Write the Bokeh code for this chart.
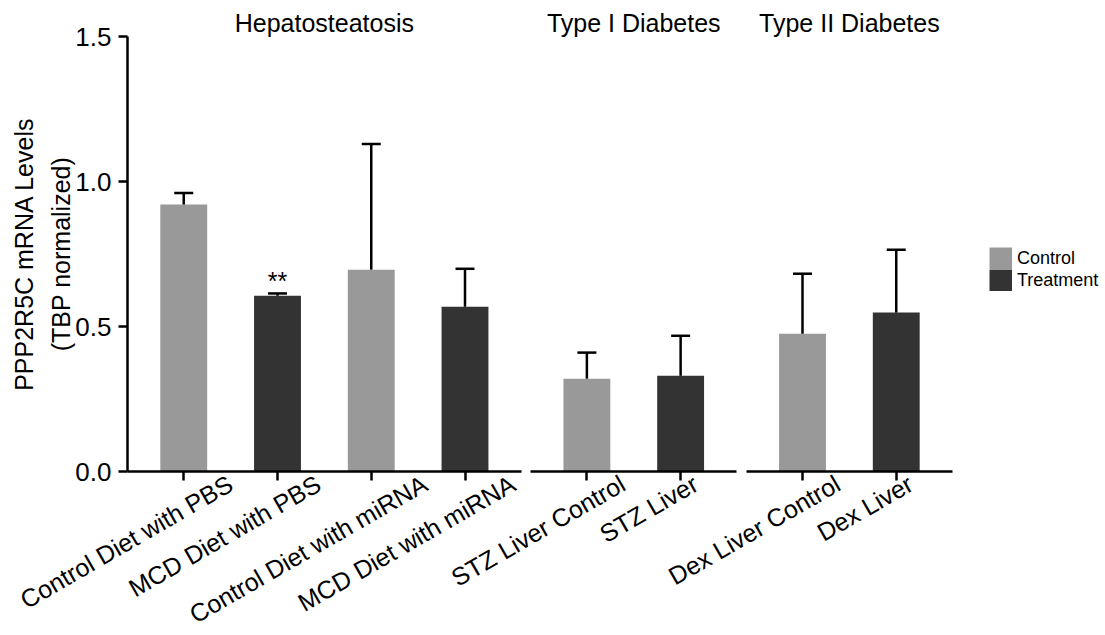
import math
from bokeh.plotting import figure
from bokeh.models import (ColumnDataSource, Range1d, FixedTicker, PrintfTickFormatter,
                          CustomJSTickFormatter, Whisker, TeeHead, Label, LinearAxis,
                          Legend, LegendItem)
from bokeh.transform import factor_cmap
from bokeh.embed import file_html
from bokeh.resources import INLINE

# ---------------- data ----------------
panels = ["Hepatosteatosis", "Type I Diabetes", "Type II Diabetes"]
panel_of = ["Hepatosteatosis"] * 4 + ["Type I Diabetes"] * 2 + ["Type II Diabetes"] * 2
categories = ["Control Diet with PBS", "MCD Diet with PBS", "Control Diet with miRNA",
              "MCD Diet with miRNA", "STZ Liver Control", "STZ Liver",
              "Dex Liver Control", "Dex Liver"]
groups = ["Control", "Treatment", "Control", "Treatment",
          "Control", "Treatment", "Control", "Treatment"]
values = [0.921, 0.606, 0.696, 0.568, 0.320, 0.330, 0.475, 0.548]
errors = [0.039, 0.008, 0.433, 0.131, 0.090, 0.138, 0.207, 0.217]
significance = ["", "**", "", "", "", "", "", ""]
group_names = ["Control", "Treatment"]
group_colors = ["#999999", "#333333"]
y_ticks = [0.0, 0.5, 1.0, 1.5]
y_title = "PPP2R5C mRNA Levels\n(TBP normalized)"

FONT = "Liberation Sans"

# ---------------- canvas geometry ----------------
W_PX, H_PX = 1105, 635
LEFT, TOP = 127, 36            # room for the y axis / facet titles
PANELS_W = 825                 # pixel width spanned by the three facet panels
PLOT_H = 435                   # pixel height of the 0 .. 1.5 value span
Y_MAX = 1.5

# ---------------- facet layout (category slots) ----------------
PAD = 0.6   # panel edge to first/last bar centre (category units)
GAP = 0.1   # gap between panels
xpos = [0.0] * len(categories)
bounds = []
start = 0.0
for pn in panels:
    idx = [i for i, p in enumerate(panel_of) if p == pn]
    for j, i in enumerate(idx):
        xpos[i] = start + PAD + j
    end = start + 2 * PAD + len(idx) - 1
    bounds.append((start, end))
    start = end + GAP
panels_end = bounds[-1][1]
upper = [v + e for v, e in zip(values, errors)]

PX_X = PANELS_W / panels_end          # pixels per category unit
PX_Y = PLOT_H / Y_MAX                 # pixels per value unit
x_min = -LEFT / PX_X
x_max = (W_PX - LEFT) / PX_X
y_max = Y_MAX + TOP / PX_Y
y_min = y_max - H_PX / PX_Y

# approximate Helvetica/Arial advance widths (per 1000 em) for label anchoring
AW = {' ': 278, 'A': 667, 'B': 667, 'C': 722, 'D': 722, 'L': 556, 'M': 833, 'N': 722,
      'P': 667, 'R': 722, 'S': 667, 'T': 611, 'Z': 611, 'a': 556, 'e': 556, 'h': 556,
      'i': 222, 'l': 222, 'm': 833, 'n': 556, 'o': 556, 'r': 333, 't': 278, 'v': 500,
      'w': 722, 'x': 500}
XLAB_SIZE = 25


def text_width(s, size):
    return sum(AW.get(c, 556) for c in s) / 1000.0 * size


label_anchor = [x + (0.24 * text_width(c, XLAB_SIZE) - 11) / PX_X
                for x, c in zip(xpos, categories)]

src = ColumnDataSource(dict(x=xpos, top=values, upper=upper, cat=categories, group=groups))

# ---------------- figure ----------------
p = figure(width=W_PX, height=H_PX, x_range=Range1d(x_min, x_max), y_range=Range1d(y_min, y_max),
           output_backend="svg", toolbar_location=None, title=None, x_axis_location=None,
           min_border=0)
p.xgrid.visible = False
p.ygrid.visible = False
p.outline_line_color = None
p.background_fill_color = "white"
p.border_fill_color = "white"

bars = p.vbar(x="x", top="top", bottom=0, width=0.5, source=src,
              fill_color=factor_cmap("group", group_colors, group_names), line_color=None)

whisk = Whisker(base="x", upper="upper", lower="top", source=src, dimension="height",
                line_color="black", line_width=2.5,
                upper_head=TeeHead(size=19, line_color="black", line_width=2.5),
                lower_head=None, level="annotation")
p.add_layout(whisk)

# y axis, pinned at the left edge of the first panel
yax = p.yaxis[0]
yax.fixed_location = 0
yax.ticker = FixedTicker(ticks=y_ticks)
yax.formatter = PrintfTickFormatter(format="%.1f")
yax.bounds = (0, Y_MAX)
yax.axis_line_color = "black"
yax.axis_line_width = 2.5
yax.major_tick_line_color = "black"
yax.major_tick_line_width = 2.5
yax.major_tick_out = 9
yax.major_tick_in = 0
yax.minor_tick_line_color = None
yax.major_label_text_font = FONT
yax.major_label_text_font_size = "26px"
yax.major_label_text_color = "black"
yax.major_label_standoff = 7

# y axis title
p.add_layout(Label(x=42, x_units="screen", y=Y_MAX / 2, text=y_title, angle=90, angle_units="deg",
                   text_align="center", text_baseline="middle", text_line_height=1.3,
                   text_font=FONT, text_font_size="25px", text_color="black"))

# x axes: one baseline with tick marks per facet panel, drawn at value 0
for (s, e), pn in zip(bounds, panels):
    ticks = [xpos[i] for i, p_ in enumerate(panel_of) if p_ == pn]
    ax = LinearAxis(ticker=FixedTicker(ticks=ticks), formatter=CustomJSTickFormatter(code="return ''"),
                    fixed_location=0, bounds=(s, e),
                    axis_line_color="black", axis_line_width=2.5,
                    major_tick_line_color="black", major_tick_line_width=2.5,
                    major_tick_out=9, major_tick_in=0, minor_tick_line_color=None,
                    major_label_text_font_size="0px", major_label_standoff=0)
    p.add_layout(ax, "below")

# x axis: rotated category names
lab_axis = LinearAxis(ticker=FixedTicker(ticks=label_anchor),
                      formatter=CustomJSTickFormatter(args=dict(names=categories),
                                                      code="return names[index]"),
                      fixed_location=0, major_label_orientation=math.pi / 6,
                      axis_line_color=None, major_tick_line_color=None,
                      major_tick_out=0, major_tick_in=0, minor_tick_line_color=None,
                      major_label_standoff=10, major_label_text_font=FONT,
                      major_label_text_font_size=f"{XLAB_SIZE}px",
                      major_label_text_color="black")
p.add_layout(lab_axis, "below")

# facet titles
centers = [(s + e) / 2 for s, e in bounds]
title_axis = LinearAxis(ticker=FixedTicker(ticks=centers),
                        formatter=CustomJSTickFormatter(args=dict(names=panels),
                                                        code="return names[index]"),
                        fixed_location=Y_MAX,
                        axis_line_color=None, major_tick_line_color=None,
                        major_tick_out=0, major_tick_in=0, minor_tick_line_color=None,
                        major_label_standoff=0, major_label_text_font=FONT,
                        major_label_text_font_size="25px", major_label_text_color="black")
p.add_layout(title_axis, "above")

# significance stars
for i, sig in enumerate(significance):
    if sig:
        p.add_layout(Label(x=xpos[i], y=upper[i], text=sig, text_align="center",
                           text_baseline="alphabetic", y_offset=12, text_font=FONT,
                           text_font_size="25px", text_color="black"))

# legend (swatches drawn as thick butt-capped strokes so they touch like the reference)
swatches = [p.segment(x0=[xpos[0]], y0=[0], x1=[xpos[0]], y1=[0], line_color=c,
                      line_width=22, line_cap="butt") for c in group_colors]
items = [LegendItem(label=g, renderers=[r]) for g, r in zip(group_names, swatches)]
LEG_X, LEG_BOTTOM = 989, 291
lg = Legend(items=items, location=(LEG_X, H_PX - LEG_BOTTOM),
            glyph_width=23, glyph_height=22, spacing=0,
            padding=0, margin=0, label_standoff=5, label_height=22,
            label_text_font=FONT, label_text_font_size="18px", label_text_color="black",
            border_line_color=None, background_fill_alpha=0)
p.add_layout(lg, "center")

open("out.html", "w").write(file_html(p, INLINE, "PPP2R5C mRNA Levels"))
